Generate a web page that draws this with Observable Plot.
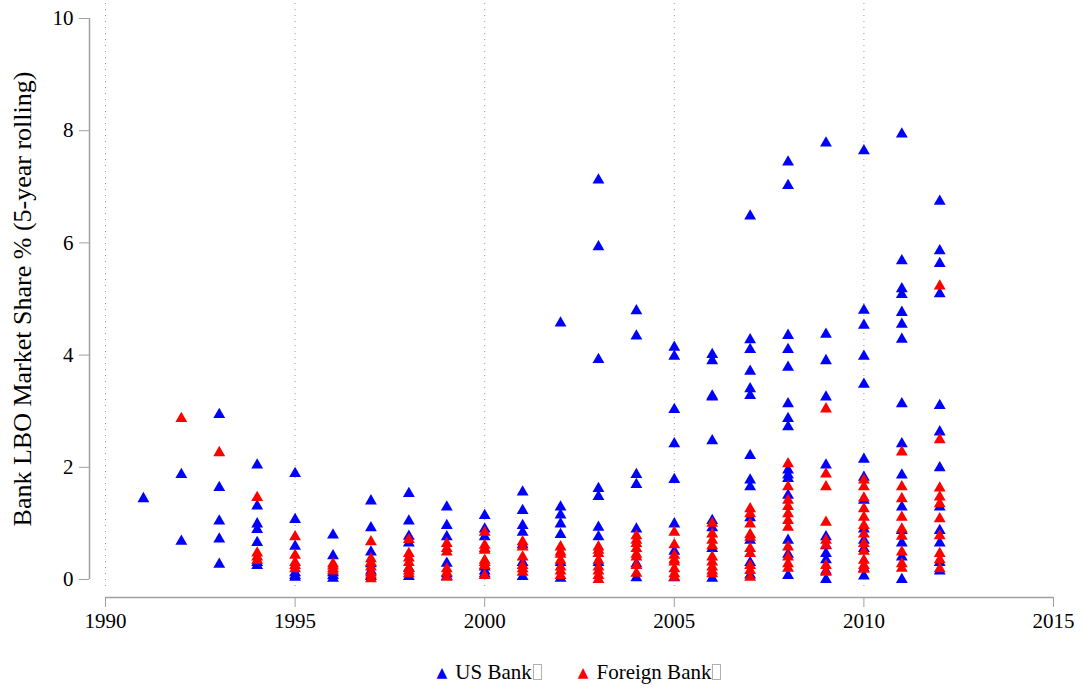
<!DOCTYPE html>
<html>
<head>
<meta charset="utf-8">
<script src="https://cdn.jsdelivr.net/npm/d3@7"></script>
<script src="https://cdn.jsdelivr.net/npm/@observablehq/plot@0.6"></script>
<style>
  body { margin: 0; background: #fff; font-family: "Liberation Serif", "Times New Roman", serif; }
  #legend { height: 44px; display: flex; align-items: center; justify-content: center;
    padding-left: 105px; padding-right: 30px; font-size: 21px; color: #000; }
  #legend .item { display: flex; align-items: center; margin: 0 18px; }
  #legend .mk { font-family: "DejaVu Sans", sans-serif; font-size: 14px; margin-right: 8px; }
  #legend .box { display: inline-block; width: 9px; height: 16px; border: 1px solid #b0b0b0;
    margin-left: 1px; box-sizing: border-box; }
</style>
</head>
<body>
<div id="chart"></div>
<div id="legend"></div>
<script>
const years = [1991, 1992, 1993, 1994, 1995, 1996, 1997, 1998, 1999, 2000, 2001,
  2002, 2003, 2004, 2005, 2006, 2007, 2008, 2009, 2010, 2011, 2012]

// market share per year, US banks
const usShares = [
  [1.44],
  [1.87, 0.68],
  [2.94, 1.64, 1.04, 0.72, 0.27],
  [2.04, 1.31, 0.99, 0.89, 0.66, 0.25, 0.30],
  [1.89, 1.07, 0.59, 0.07, 0.04, 0.12],
  [0.79, 0.42, 0.07, 0.02, 0.12],
  [1.40, 0.92, 0.49, 0.28, 0.05, 0.15],
  [1.53, 1.04, 0.77, 0.65, 0.05, 0.20],
  [1.29, 0.96, 0.76, 0.29, 0.05, 0.10],
  [1.14, 0.90, 0.76, 0.22, 0.10, 0.15],
  [1.56, 1.23, 0.96, 0.84, 0.62, 0.05, 0.30],
  [4.57, 1.29, 1.15, 0.99, 0.80, 0.02, 0.30],
  [7.12, 5.93, 3.92, 1.62, 1.48, 0.93, 0.76, 0.30],
  [4.79, 4.34, 1.87, 1.69, 0.90, 0.28, 0.03],
  [4.14, 3.98, 3.03, 2.42, 1.78, 0.99, 0.03, 0.50],
  [4.01, 3.90, 3.27, 3.25, 2.47, 1.05, 0.92, 0.02, 0.55],
  [6.48, 4.27, 4.10, 3.71, 3.40, 3.28, 2.21, 1.77, 1.65, 1.10, 0.70, 0.30, 0.08],
  [7.44, 7.02, 4.35, 4.10, 3.78, 3.13, 2.87, 2.72, 1.95, 1.86, 1.80, 1.50, 0.70, 0.45, 0.07],
  [7.78, 4.37, 3.90, 3.25, 2.04, 0.76, 0.46, 0.35, 0.00, 0.60, 0.15],
  [7.64, 4.80, 4.53, 3.98, 3.48, 2.14, 1.82, 1.41, 0.70, 0.55, 0.06, 0.90, 0.20],
  [7.94, 5.68, 5.18, 5.08, 4.76, 4.55, 4.28, 3.13, 2.42, 1.86, 1.29, 0.87, 0.65, 0.40, 0.00],
  [6.74, 5.86, 5.63, 5.09, 3.10, 2.63, 1.99, 1.29, 0.87, 0.65, 0.30, 0.15]
]

// market share per year, foreign banks
const foreignShares = [
  [],
  [2.87],
  [2.26],
  [1.46, 0.47, 0.34, 0.40],
  [0.76, 0.43, 0.25, 0.19, 0.30],
  [0.28, 0.19, 0.24, 0.15],
  [0.67, 0.37, 0.30, 0.22, 0.12, 0.01, 0.08],
  [0.71, 0.46, 0.38, 0.30, 0.20, 0.10, 0.15],
  [0.64, 0.49, 0.55, 0.19, 0.04, 0.12],
  [0.84, 0.61, 0.52, 0.34, 0.25, 0.07, 0.55, 0.30],
  [0.67, 0.58, 0.40, 0.19, 0.13, 0.25],
  [0.58, 0.49, 0.34, 0.22, 0.07, 0.45, 0.15],
  [0.58, 0.46, 0.34, 0.22, 0.07, 0.00, 0.52, 0.15],
  [0.78, 0.64, 0.55, 0.40, 0.11, 0.70, 0.25, 0.45],
  [0.84, 0.62, 0.43, 0.31, 0.19, 0.04, 0.35, 0.10],
  [1.00, 0.81, 0.70, 0.40, 0.31, 0.22, 0.10, 0.60, 0.15],
  [1.26, 1.17, 0.99, 0.80, 0.75, 0.46, 0.16, 0.04, 0.55, 0.25],
  [2.06, 1.65, 1.41, 1.17, 1.05, 0.93, 0.58, 0.28, 0.20, 1.30, 0.40],
  [3.04, 1.88, 1.65, 1.02, 0.61, 0.25, 0.13, 0.70],
  [1.77, 1.65, 1.26, 1.11, 0.96, 0.81, 0.64, 0.34, 0.25, 0.18, 1.45, 0.50],
  [2.27, 1.65, 1.44, 1.11, 0.77, 0.49, 0.28, 0.20, 0.90],
  [5.23, 2.49, 1.63, 1.47, 1.08, 0.78, 0.46, 0.35, 0.19, 1.35]
]

const xTicks = [1990, 1995, 2000, 2005, 2010, 2015]
const gridYears = [1990, 1995, 2000, 2005, 2010]
const yTicks = [0, 2, 4, 6, 8, 10]
const seriesNames = ['US Bank', 'Foreign Bank']
const seriesColors = ['#0000ff', '#ff0000']
const yLabel = 'Bank LBO Market Share % (5-year rolling)'

const flat = shares => years.flatMap((yr, i) => shares[i].map(v => ({year: yr, share: v})))
let usData = flat(usShares)
let foreignData = flat(foreignShares)

let chart = Plot.plot({
  width: 1083,
  height: 650,
  marginTop: 18,
  marginBottom: 71,
  marginLeft: 105,
  marginRight: 30,
  x: {domain: [1990, 2015], axis: null},
  y: {domain: [0, 10], axis: null},
  marks: [
    Plot.ruleX(gridYears, {stroke: '#999', strokeDasharray: '1,5', insetTop: -15, insetBottom: -11}),
    // y axis, pushed left of the frame
    Plot.ruleX([1990], {y1: 0, y2: 10, dx: -16, stroke: '#a0a0a0', strokeWidth: 1.5}),
    Plot.axisY(yTicks, {anchor: 'left', dx: -16, tickSize: 10, tickPadding: 6, stroke: '#a0a0a0',
      fill: '#000', fontSize: 21, label: null, tickFormat: d => String(d)}),
    // x axis, pushed below the frame
    Plot.ruleY([0], {x1: 1990, x2: 2015, dy: 18, stroke: '#a0a0a0', strokeWidth: 1.5}),
    Plot.axisX(xTicks, {anchor: 'bottom', dy: 18, tickSize: 10, tickPadding: 6, stroke: '#a0a0a0',
      fill: '#000', fontSize: 21, label: null, tickFormat: d => String(d)}),
    Plot.text([yLabel], {frameAnchor: 'left', textAnchor: 'middle', rotate: -90, dx: -83,
      fontSize: 26, fill: '#000'}),
    Plot.dot(usData, {x: 'year', y: 'share', symbol: 'triangle', r: 4.4, fill: seriesColors[0], stroke: null}),
    Plot.dot(foreignData, {x: 'year', y: 'share', symbol: 'triangle', r: 4.4, fill: seriesColors[1], stroke: null})
  ],
  style: {
    fontFamily: '"Liberation Serif", "Times New Roman", serif',
    background: '#fff',
    color: '#000',
  },
})
d3.select('#chart').append(() => chart)

let legend = d3.select('#legend')
seriesNames.forEach((name, i) => {
  let item = legend.append('div').attr('class', 'item')
  item.append('span').attr('class', 'mk').style('color', seriesColors[i]).text('\u25B2')
  item.append('span').text(name)
  item.append('span').attr('class', 'box')
})
</script>
</body>
</html>
